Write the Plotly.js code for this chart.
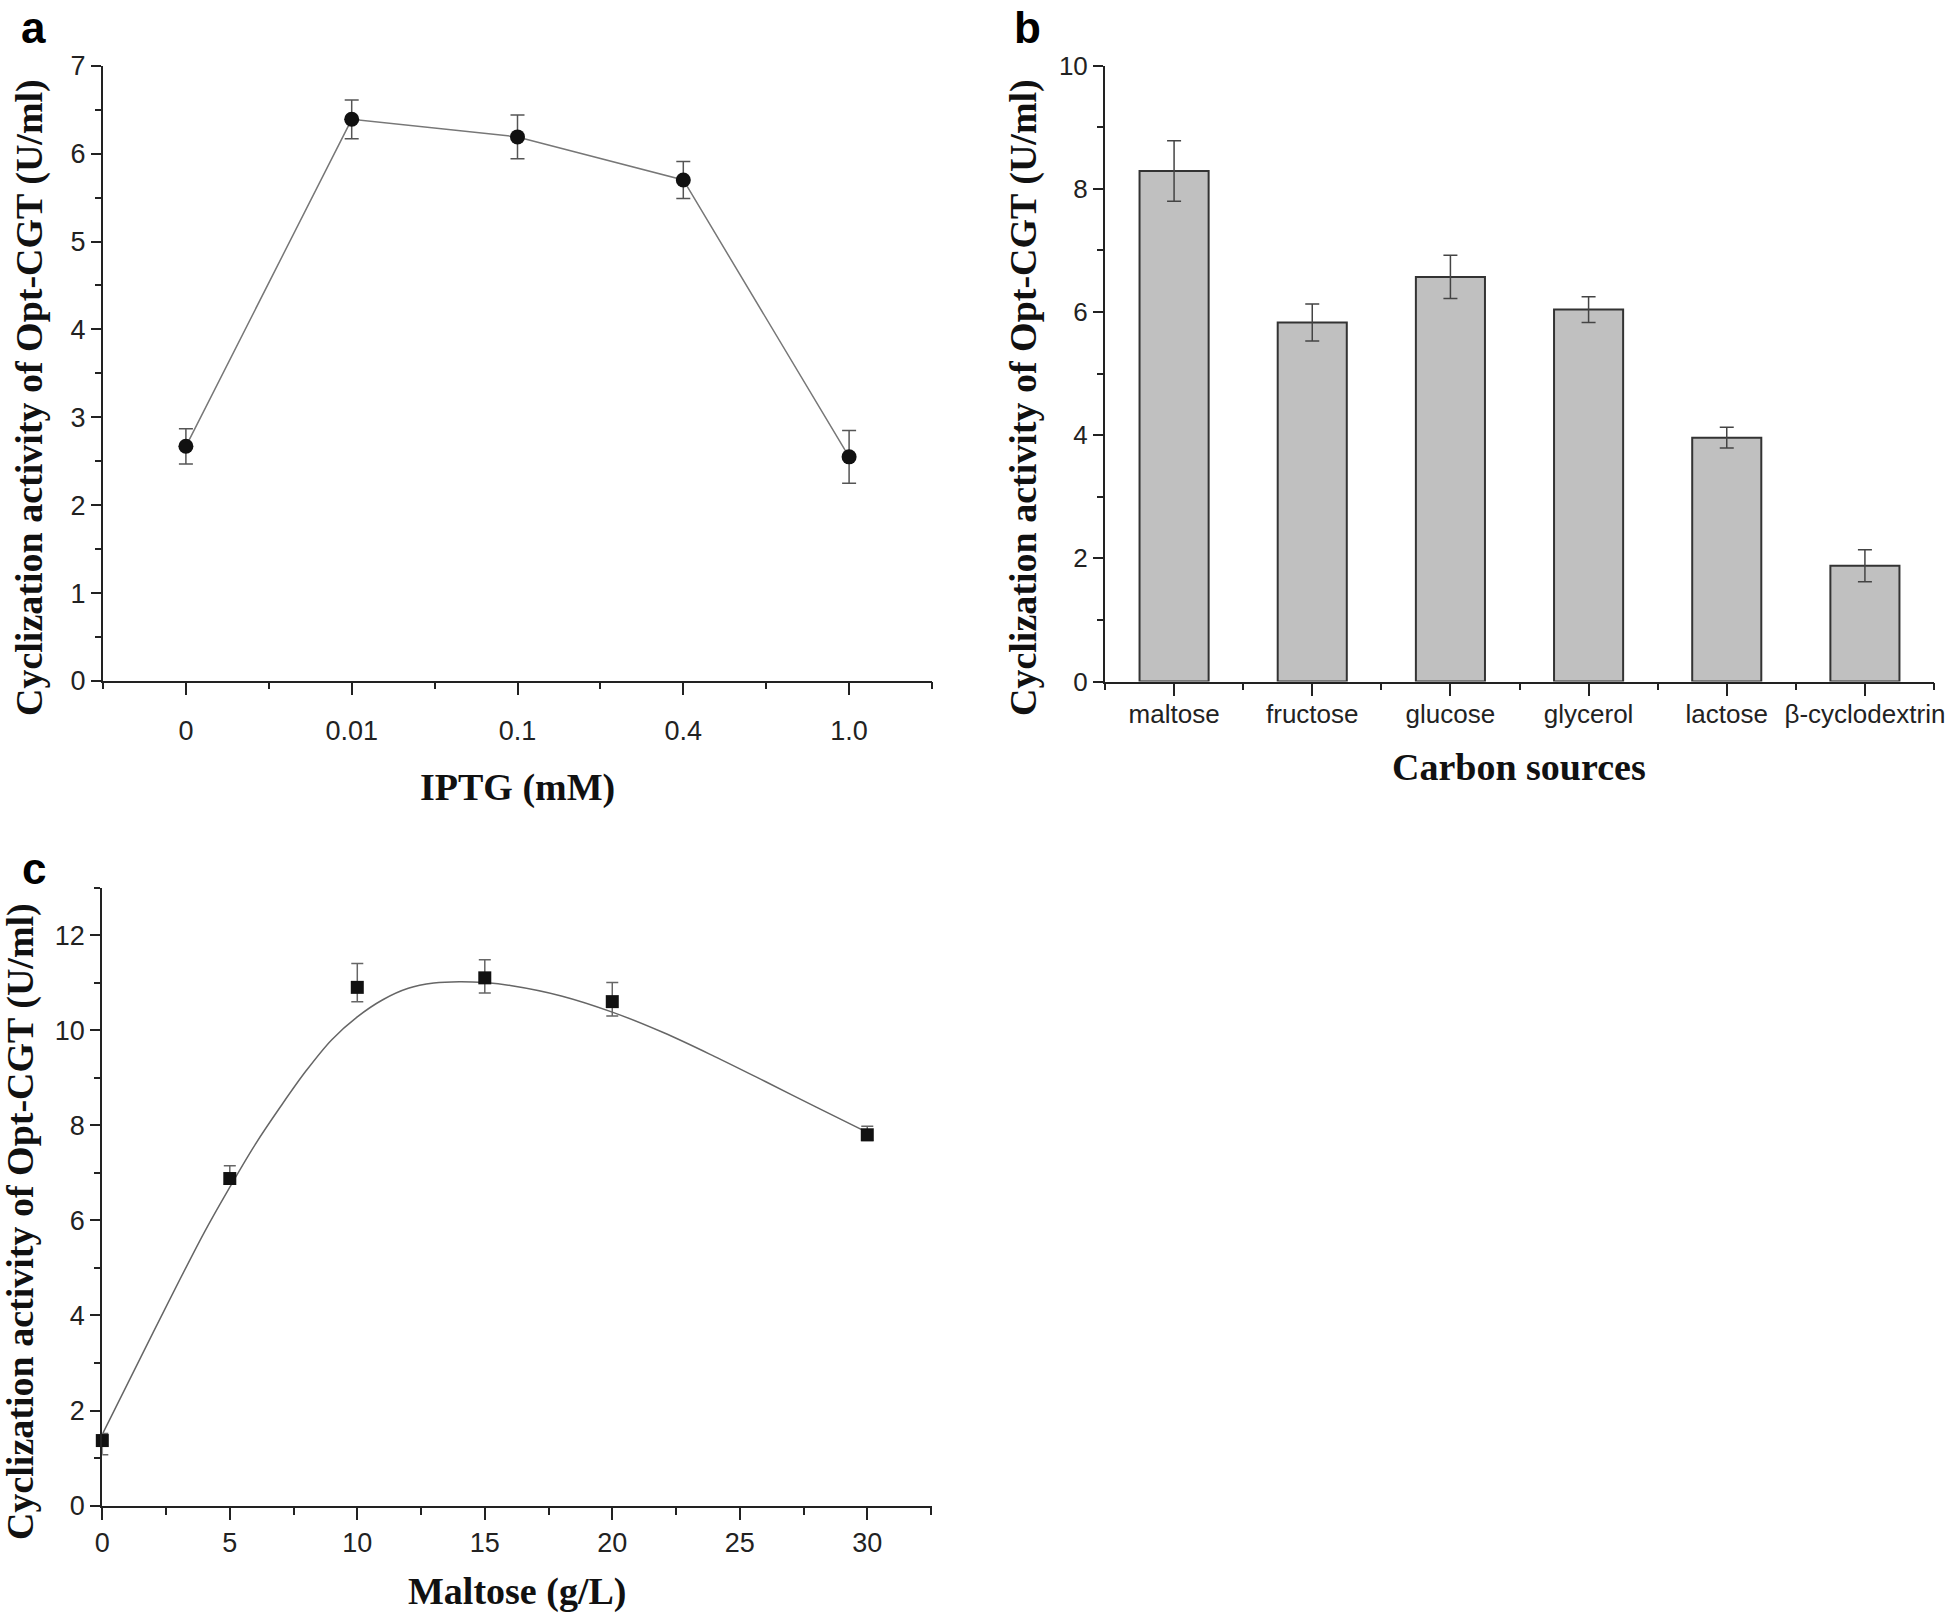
<!DOCTYPE html>
<html>
<head>
<meta charset="utf-8">
<script src="https://cdn.plot.ly/plotly-3.0.1.min.js"></script>
<style>html,body{margin:0;padding:0;background:#fff;}#chart{width:1946px;height:1613px;}</style>
</head>
<body>
<div id="chart"></div>
<script>
// ---- Panel a: IPTG ----
var iptgLabels = ['0', '0.01', '0.1', '0.4', '1.0'];
var iptgActivity = [2.67, 6.39, 6.19, 5.70, 2.55];
var iptgError = [0.20, 0.22, 0.25, 0.21, 0.30];

// ---- Panel b: carbon sources ----
var carbonSources = ['maltose', 'fructose', 'glucose', 'glycerol', 'lactose', 'β-cyclodextrin'];
var carbonActivity = [8.29, 5.83, 6.57, 6.04, 3.96, 1.88];
var carbonError = [0.49, 0.30, 0.35, 0.21, 0.17, 0.26];

// ---- Panel c: maltose concentration ----
var maltoseConc = [0, 5, 10, 15, 20, 30];
var maltoseActivity = [1.37, 6.88, 10.9, 11.1, 10.6, 7.8];
var maltoseErrPlus = [0.15, 0.27, 0.5, 0.38, 0.4, 0.18];
var maltoseErrMinus = [0.3, 0.12, 0.3, 0.32, 0.3, 0.12];
// fitted curve, points
var fitX = [0, 2, 4, 5, 6, 7, 8, 9, 10, 11, 12, 13, 14, 15, 16, 18, 20, 22, 24, 26, 28, 30];
var fitY = [1.5, 3.65, 5.75, 6.7, 7.6, 8.4, 9.15, 9.8, 10.28, 10.64, 10.88, 10.99, 11.02, 11.0, 10.94, 10.72, 10.38, 9.95, 9.45, 8.92, 8.38, 7.85];

var W = 1946, H = 1613;
function px(x) { return x / W; }
function py(y) { return 1 - y / H; }

var AX = '#222';
var tickFontA = {family: 'Liberation Sans, Arial, sans-serif', size: 27, color: '#222'};
var tickFontB = {family: 'Liberation Sans, Arial, sans-serif', size: 26, color: '#222'};
var titleFont = {family: 'Liberation Serif, Times New Roman, serif', size: 38, color: '#111'};
var letterFont = {family: 'Liberation Sans, Arial, sans-serif', size: 44, color: '#000'};

var traces = [
  {
    x: iptgLabels, y: iptgActivity, xaxis: 'x', yaxis: 'y', type: 'scatter', mode: 'lines+markers',
    line: {color: '#777', width: 1.5},
    marker: {symbol: 'circle', size: 15, color: '#111'},
    error_y: {type: 'data', array: iptgError, visible: true, color: '#555', thickness: 1.5, width: 7},
    cliponaxis: false
  },
  {
    x: iptgLabels, y: iptgActivity, xaxis: 'x4', yaxis: 'y', type: 'scatter', mode: 'none',
    hoverinfo: 'skip', showlegend: false
  },
  {
    x: carbonSources, y: carbonActivity, xaxis: 'x2', yaxis: 'y2', type: 'bar', width: 0.5,
    marker: {color: '#c0c0c0', line: {color: '#333', width: 2}},
    error_y: {type: 'data', array: carbonError, visible: true, color: '#444', thickness: 1.5, width: 7}
  },
  {
    x: carbonSources, y: carbonActivity, xaxis: 'x5', yaxis: 'y2', type: 'scatter', mode: 'none',
    hoverinfo: 'skip', showlegend: false
  },
  {
    x: fitX, y: fitY, xaxis: 'x3', yaxis: 'y3', type: 'scatter', mode: 'lines',
    line: {color: '#666', width: 1.5, shape: 'spline', smoothing: 1}, hoverinfo: 'skip'
  },
  {
    x: maltoseConc, y: maltoseActivity, xaxis: 'x3', yaxis: 'y3', type: 'scatter', mode: 'markers',
    marker: {symbol: 'square', size: 13, color: '#111'},
    error_y: {type: 'data', symmetric: false, array: maltoseErrPlus, arrayminus: maltoseErrMinus,
              visible: true, color: '#666', thickness: 1.5, width: 6},
    cliponaxis: false
  }
];

function baseX(extra) {
  var o = {showline: true, linecolor: AX, linewidth: 2, ticks: 'outside', ticklen: 12, tickwidth: 2,
    tickcolor: AX, tickfont: tickFontA, showgrid: false, zeroline: false, automargin: false, fixedrange: true};
  for (var k in extra) o[k] = extra[k];
  return o;
}
function baseY(extra) {
  var o = {showline: true, linecolor: AX, linewidth: 2, ticks: 'outside', ticklen: 10, tickwidth: 2,
    tickcolor: AX, tickfont: tickFontA, showgrid: false, zeroline: false, automargin: false, fixedrange: true};
  for (var k in extra) o[k] = extra[k];
  return o;
}

var domAx = [px(103), px(932)];
var domAy = [py(681), py(65.7)];
var domBx = [px(1105), px(1934)];
var domBy = [py(681.5), py(65.7)];
var domCx = [px(102.3), px(932.3)];
var domCy = [py(1505.7), py(887.5)];

var layout = {
  width: W, height: H,
  margin: {l: 0, r: 0, t: 0, b: 0, pad: 0},
  paper_bgcolor: '#fff', plot_bgcolor: '#fff',
  showlegend: false,
  xaxis: baseX({domain: domAx, anchor: 'y', type: 'category', range: [-0.5, 4.5], ticklabelstandoff: 13}),
  xaxis4: baseX({domain: domAx, anchor: 'y', overlaying: 'x', type: 'category', range: [-0.5, 4.5],
                 tickson: 'boundaries', ticklen: 7, showticklabels: false, showline: false}),
  yaxis: baseY({domain: domAy, anchor: 'x', range: [0, 7], dtick: 1, tick0: 0,
                minor: {dtick: 0.5, ticklen: 6, tickwidth: 2, tickcolor: AX, ticks: 'outside'}}),
  xaxis2: baseX({domain: domBx, anchor: 'y2', type: 'category', range: [-0.5, 5.5], tickfont: tickFontB, ticklabelstandoff: -4}),
  xaxis5: baseX({domain: domBx, anchor: 'y2', overlaying: 'x2', type: 'category', range: [-0.5, 5.5],
                 tickson: 'boundaries', ticklen: 7, showticklabels: false, showline: false}),
  yaxis2: baseY({domain: domBy, anchor: 'x2', range: [0, 10], dtick: 2, tick0: 0, tickfont: tickFontB,
                 minor: {dtick: 1, ticklen: 6, tickwidth: 2, tickcolor: AX, ticks: 'outside'}}),
  xaxis3: baseX({domain: domCx, anchor: 'y3', range: [0, 32.55], dtick: 5, tick0: 0,
                 minor: {dtick: 2.5, ticklen: 7, tickwidth: 2, tickcolor: AX, ticks: 'outside'}}),
  yaxis3: baseY({domain: domCy, anchor: 'x3', range: [0, 13], dtick: 2, tick0: 0,
                 minor: {dtick: 1, ticklen: 6, tickwidth: 2, tickcolor: AX, ticks: 'outside'}}),
  annotations: [
    {text: '<b>a</b>', x: px(20), y: py(2), xref: 'paper', yref: 'paper', xanchor: 'left', yanchor: 'top', showarrow: false, font: letterFont, borderpad: 0},
    {text: '<b>b</b>', x: px(1013), y: py(2), xref: 'paper', yref: 'paper', xanchor: 'left', yanchor: 'top', showarrow: false, font: letterFont, borderpad: 0},
    {text: '<b>c</b>', x: px(20), y: py(868), xref: 'paper', yref: 'paper', xanchor: 'left', yanchor: 'middle', showarrow: false, font: letterFont},
    {text: '<b>Cyclization activity of Opt-CGT (U/ml)</b>', textangle: -90, x: px(30), y: py(398), xref: 'paper', yref: 'paper', xanchor: 'center', yanchor: 'middle', showarrow: false, font: titleFont},
    {text: '<b>Cyclization activity of Opt-CGT (U/ml)</b>', textangle: -90, x: px(1024), y: py(398), xref: 'paper', yref: 'paper', xanchor: 'center', yanchor: 'middle', showarrow: false, font: titleFont},
    {text: '<b>Cyclization activity of Opt-CGT (U/ml)</b>', textangle: -90, x: px(20), y: py(1222), xref: 'paper', yref: 'paper', xanchor: 'center', yanchor: 'middle', showarrow: false, font: titleFont},
    {text: '<b>IPTG (mM)</b>', x: px(517), y: py(787), xref: 'paper', yref: 'paper', xanchor: 'center', yanchor: 'middle', showarrow: false, font: titleFont},
    {text: '<b>Carbon sources</b>', x: px(1519), y: py(767), xref: 'paper', yref: 'paper', xanchor: 'center', yanchor: 'middle', showarrow: false, font: titleFont},
    {text: '<b>Maltose (g/L)</b>', x: px(517), y: py(1591), xref: 'paper', yref: 'paper', xanchor: 'center', yanchor: 'middle', showarrow: false, font: titleFont}
  ]
};

Plotly.newPlot('chart', traces, layout, {displayModeBar: false, staticPlot: true});
</script>
</body>
</html>
